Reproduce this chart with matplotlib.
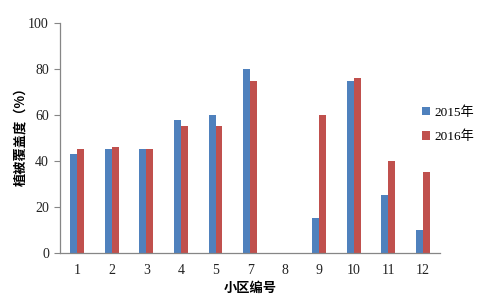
import matplotlib
matplotlib.use("Agg")
import matplotlib.pyplot as plt
import numpy as np

categories = ["1", "2", "3", "4", "5", "7", "8", "9", "10", "11", "12"]
v2015 = [43, 45, 45, 58, 60, 80, 0, 15, 75, 25, 10]
v2016 = [45, 46, 45, 55, 55, 75, 0, 60, 76, 40, 35]
series_names = ["2015年", "2016年"]

fig = plt.figure(figsize=(4.8, 2.99), dpi=100)
ax = fig.add_axes([0.125, 0.154, 0.792, 0.769])
x = np.arange(len(categories))
w = 0.2
ax.bar(x - w/2, v2015, w, color="#4F81BD", label=series_names[0])
ax.bar(x + w/2, v2016, w, color="#C0504D", label=series_names[1])

ax.set_xlim(-0.5, len(categories) - 0.5)
ax.set_ylim(0, 100)
ax.set_yticks(range(0, 101, 20))
ax.set_xticks(x)
ax.set_xticklabels(categories)
serif = ["Liberation Serif", "Noto Sans CJK SC"]
for lab in ax.get_xticklabels() + ax.get_yticklabels():
    lab.set_family(serif)
    lab.set_fontsize(10)
    lab.set_color("#222222")
ax.tick_params(axis="x", length=0, pad=8)
ax.tick_params(axis="y", length=4, width=0.8, color="#868686", pad=4)
for s in ["top", "right"]:
    ax.spines[s].set_visible(False)
for s in ["left", "bottom"]:
    ax.spines[s].set_color("#868686")
    ax.spines[s].set_linewidth(0.9)

ax.set_xlabel("小区编号", family=["Noto Sans CJK SC"], fontweight="bold", fontsize=9.5, labelpad=3)
ax.set_ylabel("植被覆盖度（%）", family=["Noto Sans CJK SC"], fontweight="bold", fontsize=9.5, labelpad=10)
ax.yaxis.set_label_coords(-0.085, 0.52)

leg = fig.legend(loc="upper left", bbox_to_anchor=(0.855, 0.685), frameon=False,
                 prop={"family": serif, "size": 9.5}, handlelength=0.6, handleheight=0.6,
                 handletextpad=0.3, labelspacing=0.9)
fig.savefig("out.png", dpi=100)
